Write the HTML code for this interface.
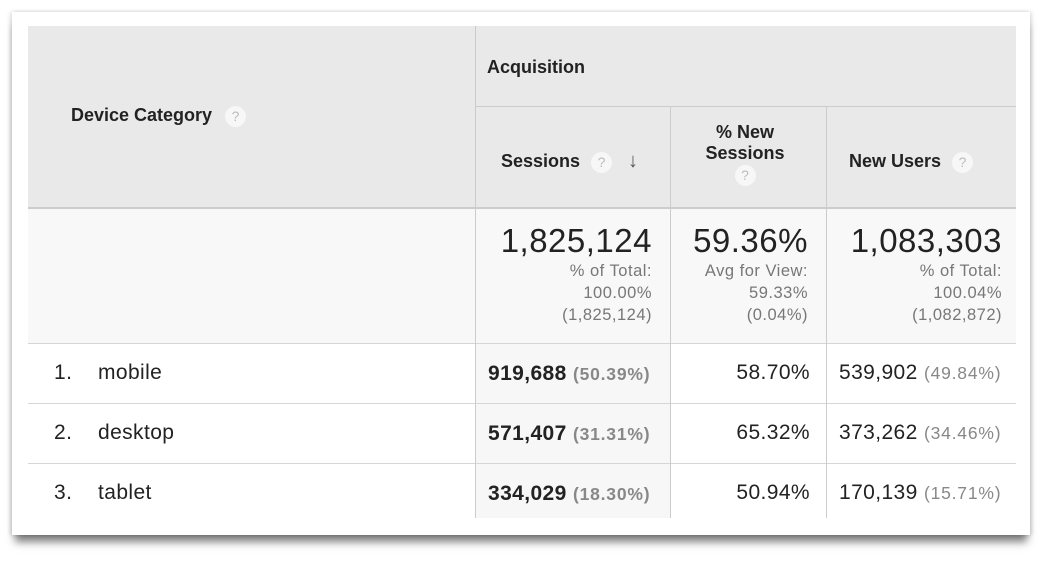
<!DOCTYPE html>
<html><head><meta charset="utf-8"><style>
body{margin:0;width:1046px;height:576px;background:#fff;position:relative;overflow:hidden;font-family:"Liberation Sans",Arial,sans-serif;color:#222}
.card{position:absolute;left:12px;top:12px;width:1018px;height:523px;background:#fff;box-shadow:0 10px 8px -3px rgba(0,0,0,.5),-2px 0 4px rgba(0,0,0,.12),2px 0 4px rgba(0,0,0,.12)}
.a{position:absolute;box-sizing:border-box}
.hd{background:#e9e9e9}
.b{font-weight:bold;font-size:18px}
.q{display:inline-block;width:21px;height:21px;border-radius:50%;background:#f7f7f7;color:#bbb;font-size:14px;text-align:center;line-height:21px;vertical-align:middle;font-weight:normal}
.vl{position:absolute;width:1px;background:#ccc}
.hl{position:absolute;height:1px;background:#d6d6d6}
.big{font-size:33px;color:#222;text-align:right;letter-spacing:0.5px}
.sm{font-size:16.5px;color:#777;text-align:right;line-height:22px;letter-spacing:0.5px}
.r{font-size:21px;position:absolute;letter-spacing:0.4px}
.g{color:#888;font-size:17.5px;letter-spacing:0.8px}
</style></head><body>
<div class="card"></div>
<div class="a hd" style="left:28px;top:26px;width:988px;height:181px"></div>
<div class="a" style="left:28px;top:207px;width:988px;height:136px;background:#f8f8f8"></div>
<div class="a" style="left:475px;top:343px;width:195px;height:175px;background:#f7f7f7"></div>
<div class="hl" style="left:475px;top:106px;width:541px;background:#ccc"></div>
<div class="hl" style="left:28px;top:207px;width:988px;height:2px;background:#ccc"></div>
<div class="hl" style="left:28px;top:343px;width:988px"></div>
<div class="hl" style="left:28px;top:403px;width:988px"></div>
<div class="hl" style="left:28px;top:463px;width:988px"></div>
<div class="vl" style="left:475px;top:26px;height:492px"></div>
<div class="vl" style="left:670px;top:107px;height:411px"></div>
<div class="vl" style="left:826px;top:107px;height:411px"></div>
<div class="a b" style="left:71px;top:105px">Device Category <span class="q" style="margin-left:8px">?</span></div>
<div class="a b" style="left:487px;top:57px">Acquisition</div>
<div class="a b" style="left:501px;top:150px">Sessions <span class="q" style="margin-left:6px">?</span><span style="margin-left:16px;color:#555;font-size:20px">&#8595;</span></div>
<div class="a b" style="left:670px;top:122px;width:150px;text-align:center;line-height:21px">% New<br>Sessions<br><span class="q">?</span></div>
<div class="a b" style="left:849px;top:151px">New Users <span class="q" style="margin-left:6px">?</span></div>
<div class="a" style="left:475px;top:222px;width:177px"><div class="big">1,825,124</div><div class="sm">% of Total:<br>100.00%<br>(1,825,124)</div></div>
<div class="a" style="left:670px;top:222px;width:138px"><div class="big">59.36%</div><div class="sm">Avg for View:<br>59.33%<br>(0.04%)</div></div>
<div class="a" style="left:826px;top:222px;width:176px"><div class="big">1,083,303</div><div class="sm">% of Total:<br>100.04%<br>(1,082,872)</div></div>
<div class="r" style="left:54px;top:361px">1.</div><div class="r" style="left:98px;top:361px">mobile</div>
<div class="r" style="left:54px;top:421px">2.</div><div class="r" style="left:98px;top:421px">desktop</div>
<div class="r" style="left:54px;top:481px">3.</div><div class="r" style="left:98px;top:481px">tablet</div>
<div class="r" style="left:488px;top:362px;font-weight:bold">919,688 <span class="g">(50.39%)</span></div>
<div class="r" style="left:488px;top:422px;font-weight:bold">571,407 <span class="g">(31.31%)</span></div>
<div class="r" style="left:488px;top:482px;font-weight:bold">334,029 <span class="g">(18.30%)</span></div>
<div class="r" style="left:670px;width:140px;text-align:right;top:361px">58.70%</div>
<div class="r" style="left:670px;width:140px;text-align:right;top:421px">65.32%</div>
<div class="r" style="left:670px;width:140px;text-align:right;top:481px">50.94%</div>
<div class="r" style="left:839px;top:361px">539,902 <span class="g">(49.84%)</span></div>
<div class="r" style="left:839px;top:421px">373,262 <span class="g">(34.46%)</span></div>
<div class="r" style="left:839px;top:481px">170,139 <span class="g">(15.71%)</span></div>
</body></html>
